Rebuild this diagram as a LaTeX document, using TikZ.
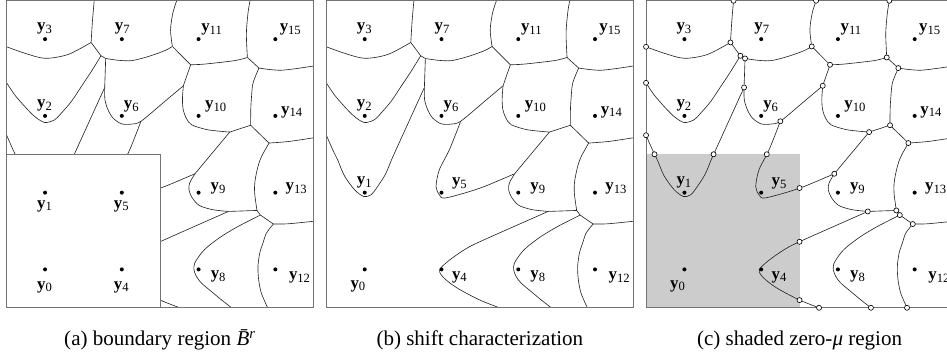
\documentclass[tikz,border=0pt]{standalone}
\usepackage{fontspec}
\setmainfont{Liberation Serif}

\tikzset{
  bnd/.style={line width=0.3pt, black!85},
  panel/.style={draw=black!55, line width=0.45pt},
  site/.style={circle, fill=black, inner sep=0pt, minimum size=1.9pt},
  brk/.style={circle, draw=black, fill=white, line width=0.3pt, inner sep=0pt, minimum size=2.4pt},
  ylab/.style={font=\footnotesize, inner sep=0.8pt},
  subcap/.style={font=\normalsize, inner sep=0pt}
}

\newcommand{\yy}[1]{\textbf{y}\textsubscript{#1}}

% curved cell boundaries of one panel, #1 = prefix of the junction names
\newcommand{\cellcurves}[1]{%
  \coordinate (#1j1) at (1.10,3.457);
  \coordinate (#1j2) at (1.229,3.283);
  \coordinate (#1j3) at (1.29,3.248);
  \coordinate (#1j4) at (2.159,3.405);
  \coordinate (#1j5) at (2.397,3.166);
  \coordinate (#1j6) at (3.136,3.261);
  \coordinate (#1j7) at (3.287,3.123);
  \coordinate (#1j8) at (3.179,2.378);
  \coordinate (#1j9) at (2.906,2.289);
  \coordinate (#1j10) at (2.302,2.892);
  \coordinate (#1j11) at (1.277,2.87);
  \coordinate (#1j12) at (1.75,2.43);
  \coordinate (#1j13) at (2.453,1.746);
  \coordinate (#1j14) at (2.889,1.255);
  \coordinate (#1j15) at (3.261,1.268);
  \coordinate (#1j16) at (3.306,1.208);
  \coordinate (#1j17) at (3.418,2.146);
  \coordinate (#1j18) at (3.475,1.091);
  % top rows
  \draw[bnd] plot[smooth] coordinates {(0,3.40) (0.24,3.315) (0.50,3.25) (0.80,3.30) (#1j1)};
  \draw[bnd] plot[smooth] coordinates {(#1j1) (1.117,3.73) (1.14,4)};
  \draw[bnd] (#1j1) -- (#1j2) -- (#1j3);
  \draw[bnd] plot[smooth] coordinates {(#1j3) (1.45,3.225) (1.63,3.22) (1.85,3.275) (2.06,3.35) (#1j4)};
  \draw[bnd] plot[smooth] coordinates {(#1j4) (2.135,3.62) (2.165,3.84) (2.215,4)};
  \draw[bnd] (#1j4) -- (#1j5);
  \draw[bnd] plot[smooth] coordinates {(#1j5) (2.58,3.175) (2.97,3.22) (#1j6)};
  \draw[bnd] plot[smooth] coordinates {(#1j6) (3.123,3.57) (3.144,3.84) (3.17,4)};
  \draw[bnd] (#1j6) -- (#1j7);
  \draw[bnd] plot[smooth] coordinates {(#1j7) (3.58,3.095) (4,3.15)};
  \draw[bnd] plot[smooth] coordinates {(#1j7) (3.21,2.93) (3.19,2.75) (3.18,2.58) (#1j8)};
  \draw[bnd] (#1j9) -- (#1j8) -- (#1j17);
  \draw[bnd] plot[smooth] coordinates {(#1j17) (3.68,2.167) (4,2.215)};
  \draw[bnd] (#1j5) -- (#1j10);
  \draw[bnd] plot[smooth] coordinates {(#1j10) (2.29,2.72) (2.30,2.58) (2.34,2.47) (2.41,2.384) (2.62,2.319) (#1j9)};
  \draw[bnd] (#1j3) -- (#1j11);
  \draw[bnd] plot[smooth] coordinates {(#1j11) (1.28,2.71) (1.32,2.58) (1.385,2.472) (1.495,2.397) (1.625,2.393) (#1j12) (2.05,2.68) (#1j10)};
  % parabola arms
  \draw[bnd] plot[smooth] coordinates {(0,2.93) (0.104,2.775) (0.235,2.623) (0.365,2.492) (0.495,2.414) (0.625,2.449) (0.713,2.537) (0.843,2.688) (0.973,2.883) (1.103,3.079) (#1j2)};
  \draw[bnd] plot[smooth] coordinates {(0,2.248) (0.082,2.06) (0.15,1.92) (0.235,1.72) (0.365,1.54) (0.486,1.45) (0.582,1.472) (0.668,1.58) (0.77,1.74) (0.85,1.93) (0.908,2.059) (#1j11)};
  \draw[bnd] plot[smooth] coordinates {(#1j12) (1.603,2.059) (1.472,1.798) (1.429,1.58) (1.472,1.472) (1.537,1.429) (1.798,1.494) (2.059,1.58) (#1j13)};
  \draw[bnd] (#1j9) -- (#1j13);
  \draw[bnd] plot[smooth] coordinates {(#1j13) (2.384,1.625) (2.375,1.537) (2.407,1.45) (2.472,1.364) (2.537,1.32) (2.688,1.277) (#1j14)};
  \draw[bnd] (#1j14) -- (#1j15) -- (#1j16);
  \draw[bnd] plot[smooth] coordinates {(#1j15) (3.231,1.494) (3.235,1.65) (3.274,1.841) (3.32,1.97) (#1j17)};
  % bottom rows
  \draw[bnd] plot[smooth] coordinates {(#1j14) (2.007,0.864) (1.798,0.756) (1.581,0.603) (1.475,0.49) (1.53,0.39) (1.70,0.26) (1.99,0.105) (2.254,0)};
  \draw[bnd] plot[smooth] coordinates {(#1j16) (3.014,1.059) (2.797,0.929) (2.623,0.799) (2.537,0.713) (2.45,0.582) (2.44,0.495) (2.472,0.408) (2.537,0.322) (2.667,0.212) (2.797,0.104) (2.93,0)};
  \draw[bnd] (#1j16) -- (#1j18);
  \draw[bnd] plot[smooth] coordinates {(#1j18) (3.665,1.094) (4,1.127)};
  \draw[bnd] plot[smooth] coordinates {(#1j18) (3.384,0.973) (3.339,0.843) (3.297,0.713) (3.274,0.538) (3.283,0.365) (3.318,0.191) (3.40,0)};
}

% the twelve sites outside the lower left block
\newcommand{\sites}[1]{%
  \foreach \n/\i/\j/\anc/\side/\dx/\dy in {
      3/0/3/south/north/0/0, 7/1/3/south/north/0.5/0,
      11/2/3/south west/north east/-0.5/0, 15/3/3/south west/north east/0.3/0,
      2/0/2/south/north/0/0, 6/1/2/south west/north east/-0.8/0,
      10/2/2/south west/north east/1.3/0, 14/3/2/west/east/0.6/1.8,
      9/2/1/west/east/3.6/2, 13/3/1/west/east/2.8/2,
      8/2/0/north west/south east/4/1, 12/3/0/north west/south east/4.7/0.7} {
    \node[site] (#1y\n) at (\i+0.5,\j+0.5) {};
    \node[ylab, anchor=\anc, xshift=\dx pt, yshift=\dy pt] (#1l\n) at (#1y\n.\side) {\yy{\n}};
  }%
}

% the four sites of the lower left block, labels as in (b) and (c)
\newcommand{\lowsites}[1]{%
  \foreach \n/\i/\j/\anc/\side/\dx/\dy in {
      1/0/1/south/north/0/0, 5/1/1/south west/north east/3.2/-0.3,
      0/0/0/north/south/-3/-3.2, 4/1/0/north west/south east/3.2/0.7} {
    \node[site] (#1y\n) at (\i+0.5,\j+0.5) {};
    \node[ylab, anchor=\anc, xshift=\dx pt, yshift=\dy pt] (#1l\n) at (#1y\n.\side) {\yy{\n}};
  }%
}

\begin{document}
\begin{tikzpicture}[x=36.5pt, y=36.5pt]
  \useasboundingbox (-0.087,-0.576) rectangle (12.251,4.01);
  \clip (-0.087,-0.576) rectangle (12.251,4.01);

  % (a)
  \begin{scope}
    \cellcurves{a}
    \filldraw[panel, fill=white] (0,0) rectangle (2,2);
    \draw[panel] (0,0) rectangle (4,4);
    \sites{a}
    \foreach \n/\i/\j/\dy in {1/0/1/-1.6, 5/1/1/-1.6, 0/0/0/-3.6, 4/1/0/-3.6} {
      \node[site] (ay\n) at (\i+0.5,\j+0.5) {};
      \node[ylab, anchor=north, yshift=\dy pt] (al\n) at (ay\n.south) {\yy{\n}};
    }
    \node[subcap] (capa) at (2,-0.42) {(a) boundary region \textit{\={B}\textsuperscript{r}}};
  \end{scope}

  % (b)
  \begin{scope}[shift={(4.165,0)}]
    \cellcurves{b}
    \draw[panel] (0,0) rectangle (4,4);
    \sites{b}
    \lowsites{b}
    \node[subcap] (capb) at (2,-0.42) {(b) shift characterization};
  \end{scope}

  % (c)
  \begin{scope}[shift={(8.33,0)}]
    \fill[black!20] (0,0) rectangle (2,2);
    \cellcurves{c}
    \draw[panel] (0,0) rectangle (4,4);
    \foreach \k in {1,...,18}
      \node[brk] (co\k) at (cj\k) {};
    \foreach \p [count=\m] in {(0,3.40), (0,2.93), (0,2.248), (1.14,4), (2.215,4), (3.17,4),
        (0.11,2), (0.88,2), (1.573,2), (2,1.56), (2,0.86), (2,0.10),
        (2.254,0), (2.93,0), (3.40,0)}
      \node[brk] (cx\m) at \p {};
    \sites{c}
    \lowsites{c}
    \node[subcap] (capc) at (2,-0.42) {(c) shaded zero-\textit{μ} region};
  \end{scope}
\end{tikzpicture}
\end{document}
